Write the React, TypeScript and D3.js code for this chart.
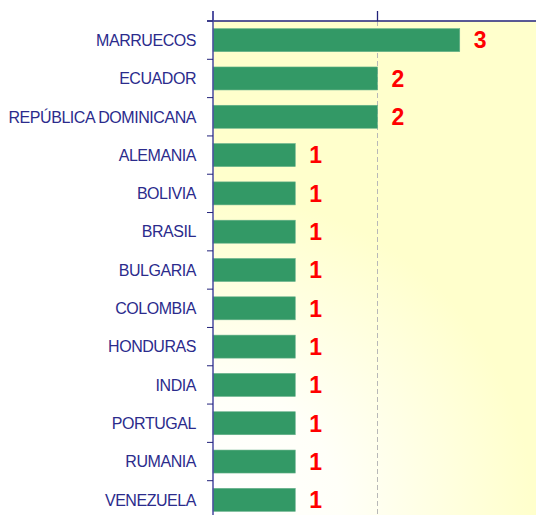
import React, { useEffect, useRef } from "react";
import * as d3 from "d3";

const countries = [
  "MARRUECOS",
  "ECUADOR",
  "REPÚBLICA DOMINICANA",
  "ALEMANIA",
  "BOLIVIA",
  "BRASIL",
  "BULGARIA",
  "COLOMBIA",
  "HONDURAS",
  "INDIA",
  "PORTUGAL",
  "RUMANIA",
  "VENEZUELA",
];
const counts = [3, 2, 2, 1, 1, 1, 1, 1, 1, 1, 1, 1, 1];
const xTicks = [0, 2, 4];

const App = () => {
  const ref = useRef<SVGSVGElement | null>(null);

  useEffect(() => {
    const width = 536;
    const height = 515;
    const margin = { top: 21, left: 213 };
    const plotW = 329;
    const plotH = 498;

    const svg = d3.select(ref.current);
    svg.selectAll("*").remove();

    const data = countries.map((c, i) => ({ name: c, value: counts[i] }));

    const x = d3.scaleLinear().domain([0, 4]).range([0, plotW]);
    const y = d3
      .scaleBand()
      .domain(countries)
      .range([0, plotH])
      .paddingInner(0.4)
      .paddingOuter(0.2);

    const defs = svg.append("defs");
    const grad = defs
      .append("radialGradient")
      .attr("id", "bg")
      .attr("gradientUnits", "userSpaceOnUse")
      .attr("cx", 0)
      .attr("cy", plotH - 5)
      .attr("r", 320);
    grad.append("stop").attr("offset", "0%").attr("stop-color", "#ffffff");
    grad.append("stop").attr("offset", "40%").attr("stop-color", "#fffff8");
    grad.append("stop").attr("offset", "100%").attr("stop-color", "#ffffcc");

    const g = svg
      .append("g")
      .attr("transform", `translate(${margin.left},${margin.top})`);

    g.append("rect")
      .attr("width", plotW)
      .attr("height", plotH)
      .attr("fill", "url(#bg)");

    // dashed gridline
    g.selectAll(".grid")
      .data(xTicks.filter((t) => t > 0))
      .join("line")
      .attr("x1", (d) => x(d))
      .attr("x2", (d) => x(d))
      .attr("y1", 0)
      .attr("y2", plotH)
      .attr("stroke", "#b8b8b8")
      .attr("stroke-dasharray", "5,3");

    g.selectAll(".bar")
      .data(data)
      .join("rect")
      .attr("x", 0)
      .attr("y", (d) => y(d.name)!)
      .attr("width", (d) => x(d.value))
      .attr("height", y.bandwidth())
      .attr("fill", "#339966")
      .attr("stroke", "#66b08a")
      .attr("stroke-width", 0.6);

    g.selectAll(".val")
      .data(data)
      .join("text")
      .attr("x", (d) => x(d.value) + 14)
      .attr("y", (d) => y(d.name)! + y.bandwidth() / 2)
      .attr("dy", "0.36em")
      .attr("fill", "#ff0000")
      .style("font-family", "'Liberation Sans', Arial, sans-serif")
      .style("font-weight", "bold")
      .style("font-size", "23px")
      .text((d) => d.value);

    // top axis
    const axisColor = "#22227a";
    g.append("line")
      .attr("x1", -6)
      .attr("x2", plotW)
      .attr("y1", 0)
      .attr("y2", 0)
      .attr("stroke", axisColor)
      .attr("stroke-width", 1.3);
    g.selectAll(".xt")
      .data(xTicks)
      .join("line")
      .attr("x1", (d) => x(d))
      .attr("x2", (d) => x(d))
      .attr("y1", -10)
      .attr("y2", 0)
      .attr("stroke", axisColor)
      .attr("stroke-width", 1.3);

    // left axis
    g.append("line")
      .attr("x1", 0)
      .attr("x2", 0)
      .attr("y1", -10)
      .attr("y2", plotH)
      .attr("stroke", "#4a4aa0")
      .attr("stroke-width", 1.5);
    const step = y.step();
    g.selectAll(".yt")
      .data(d3.range(countries.length + 1))
      .join("line")
      .attr("x1", -6)
      .attr("x2", 0)
      .attr("y1", (d) => d * step)
      .attr("y2", (d) => d * step)
      .attr("stroke", axisColor)
      .attr("stroke-width", 1);

    g.selectAll(".lab")
      .data(data)
      .join("text")
      .attr("x", -17)
      .attr("y", (d) => y(d.name)! + y.bandwidth() / 2)
      .attr("dy", "0.36em")
      .attr("text-anchor", "end")
      .attr("fill", "#2b2b8c")
      .style("font-family", "'Liberation Sans', Arial, sans-serif")
      .style("font-size", "16px")
      .style("letter-spacing", "-0.45px")
      .text((d) => d.name);

    svg.attr("width", width).attr("height", height);
  }, []);

  return (
    <svg
      ref={ref}
      width={536}
      height={515}
      style={{ position: "fixed", left: 0, top: 0, background: "#ffffff" }}
    />
  );
};

export default App;
